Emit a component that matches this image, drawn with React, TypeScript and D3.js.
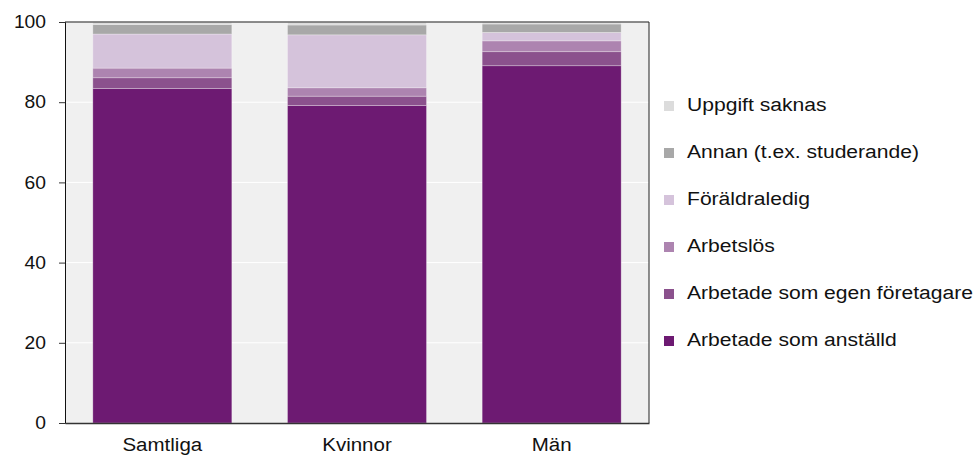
import React, { useEffect, useRef } from 'react';
import * as d3 from 'd3';

const categories = ['Samtliga', 'Kvinnor', 'Män'];

// series in stacking order (bottom -> top)
const seriesNames = [
  'Arbetade som anställd',
  'Arbetade som egen företagare',
  'Arbetslös',
  'Föräldraledig',
  'Annan (t.ex. studerande)',
  'Uppgift saknas',
];
const anstalld = [83.4, 79.2, 89.1];
const egenForetagare = [2.7, 2.3, 3.5];
const arbetslos = [2.4, 2.1, 2.7];
const foraldraledig = [8.5, 13.2, 2.1];
const annan = [2.4, 2.45, 2.1];
const uppgiftSaknas = [0.6, 0.75, 0.5];

const colors = ['#6d1a72', '#8b518d', '#ad84b0', '#d5c3db', '#a8a8a8', '#dcdcdc'];
const yTicks = [0, 20, 40, 60, 80, 100];

const FONT = '"Liberation Sans", Arial, sans-serif';

const App: React.FC = () => {
  const svgRef = useRef<SVGSVGElement>(null);

  useEffect(() => {
    const svg = d3.select(svgRef.current);
    svg.selectAll('*').remove();

    const width = 977;
    const height = 457;
    const margin = { top: 22, right: 328, bottom: 34, left: 65 };
    const chartWidth = width - margin.left - margin.right;
    const chartHeight = height - margin.top - margin.bottom;

    svg.attr('width', width).attr('height', height);

    const g = svg.append('g').attr('transform', `translate(${margin.left}, ${margin.top})`);

    const seriesValues = [anstalld, egenForetagare, arbetslos, foraldraledig, annan, uppgiftSaknas];
    const rows = categories.map((c, i) => {
      const row: Record<string, any> = { category: c };
      seriesNames.forEach((s, j) => { row[s] = seriesValues[j][i]; });
      return row;
    });
    const stacked = d3.stack<Record<string, any>>().keys(seriesNames)(rows);

    const xScale = d3.scaleBand().domain(categories).range([0, chartWidth]).paddingInner(0.286).paddingOuter(0.143);
    const yScale = d3.scaleLinear().domain([0, 100]).range([chartHeight, 0]);

    // Background
    g.append('rect')
      .attr('width', chartWidth)
      .attr('height', chartHeight)
      .attr('fill', '#f0f0f0');

    // Grid lines
    g.selectAll('.grid')
      .data(yTicks.slice(1, -1))
      .enter()
      .append('line')
      .attr('x1', 0)
      .attr('x2', chartWidth)
      .attr('y1', d => yScale(d))
      .attr('y2', d => yScale(d))
      .attr('stroke', '#ffffff')
      .attr('stroke-width', 1);

    // Bars
    stacked.forEach((layer, j) => {
      g.append('g')
        .selectAll('rect')
        .data(layer)
        .enter()
        .append('rect')
        .attr('x', d => xScale(d.data.category as string)!)
        .attr('y', d => yScale(d[1]))
        .attr('width', xScale.bandwidth())
        .attr('height', d => yScale(d[0]) - yScale(d[1]))
        .attr('fill', colors[j])
        .attr('stroke', '#ffffff')
        .attr('stroke-opacity', 0.35)
        .attr('stroke-width', 0.8);
    });

    // Frame
    g.append('line').attr('x1', 0).attr('x2', chartWidth).attr('y1', 0).attr('y2', 0)
      .attr('stroke', '#666').attr('stroke-width', 1.5);
    g.append('line').attr('x1', chartWidth).attr('x2', chartWidth).attr('y1', 0).attr('y2', chartHeight)
      .attr('stroke', '#222').attr('stroke-width', 1);

    // Y axis
    const yAxis = g.append('g')
      .call(d3.axisLeft(yScale).tickValues(yTicks).tickSize(6).tickPadding(14).tickFormat(d3.format('d')));
    yAxis.select('.domain').attr('stroke', '#111');
    yAxis.selectAll('.tick line').attr('stroke', '#333');
    yAxis.selectAll<SVGTextElement, number>('text')
      .style('font-family', FONT)
      .style('font-size', '17.5px')
      .attr('fill', '#111')
      .attr('x', 0)
      .attr('transform', 'translate(-19,0) scale(1.1,1)');

    // X axis
    const xAxis = g.append('g')
      .attr('transform', `translate(0, ${chartHeight})`)
      .call(d3.axisBottom(xScale).tickSize(0).tickPadding(15));
    xAxis.select('.domain').attr('stroke', '#333').attr('stroke-width', 1.5);
    xAxis.selectAll('text')
      .style('font-family', FONT)
      .style('font-size', '19px')
      .attr('fill', '#111')
      .attr('y', 0)
      .attr('transform', 'translate(0,15) scale(1.08,1)');

    // Legend (top entry = top of stack)
    const legend = svg.append('g').attr('transform', 'translate(664, 104)');
    const legendItems = seriesNames.map((s, j) => ({ name: s, color: colors[j] })).reverse();
    legendItems.forEach((item, i) => {
      const row = legend.append('g').attr('transform', `translate(0, ${i * 47})`);
      row.append('rect')
        .attr('x', 0)
        .attr('y', -3)
        .attr('width', 10)
        .attr('height', 10)
        .attr('fill', item.color);
      row.append('text')
        .attr('x', 0)
        .attr('y', 0)
        .attr('dy', '0.35em')
        .attr('transform', 'translate(23,0) scale(1.11,1)')
        .style('font-family', FONT)
        .style('font-size', '19px')
        .attr('fill', '#111')
        .text(item.name);
    });
  }, []);

  return (
    <div style={{ position: 'absolute', left: 0, top: 0 }}>
      <svg ref={svgRef}></svg>
    </div>
  );
};

export default App;
